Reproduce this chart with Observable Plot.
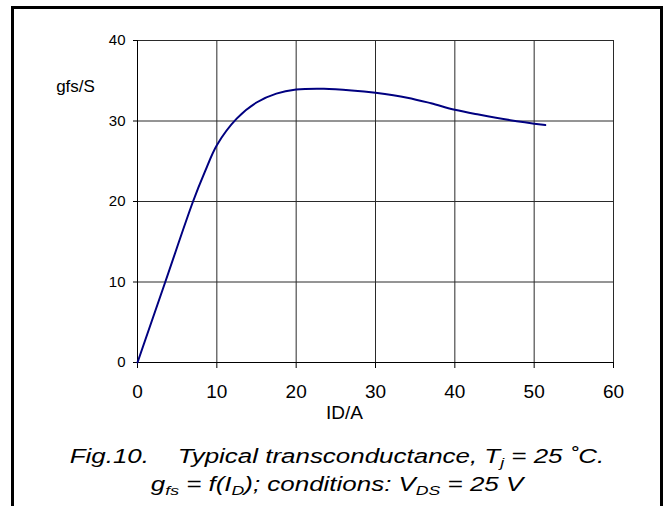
<!DOCTYPE html>
<html>
<head>
<meta charset="utf-8">
<script src="https://cdn.jsdelivr.net/npm/d3@7"></script>
<script src="https://cdn.jsdelivr.net/npm/@observablehq/plot@0.6"></script>
<style>
  html, body { margin: 0; padding: 0; background: white; }
  #wrap { position: relative; width: 667px; height: 506px; overflow: hidden; background: white; }
  #border { position: absolute; left: 11px; top: 6px; width: 646px; height: 520px;
            border: 3px solid black; pointer-events: none; }
  #caption { margin-left: 11px; width: 652px; text-align: center; margin-top: 12px;
             font-family: "Liberation Sans", Arial, sans-serif; font-style: italic;
             font-size: 19.5px; line-height: 28px; color: black; white-space: pre; }
  .ln { display: inline-block; transform: scaleX(1.33); transform-origin: 50% 50%; }
  .sb { font-size: 0.68em; position: relative; top: 0.32em; line-height: 0; }
  svg { display: block; }
</style>
</head>
<body>
<div id="wrap">
  <div id="chart"></div>
  <div id="caption"><span class="ln">Fig.10.    Typical transconductance, T<span class="sb">j</span> = 25 ˚C.</span>
<span class="ln">g<span class="sb">fs</span> = f(I<span class="sb">D</span>); conditions: V<span class="sb">DS</span> = 25 V</span></div>
  <div id="border"></div>
</div>
<script>
// Drain current I_D (A)
const ID  = [0, 3.5, 7, 8.5, 10, 12.5, 15, 17.5, 20, 23.5, 27, 30, 34, 37, 40, 43, 47, 51.4];
// Forward transconductance g_fs (S)
const gfs = [0, 10, 20, 23.7, 27, 30.3, 32.3, 33.4, 33.9, 34.0, 33.8, 33.5, 32.9, 32.2, 31.4, 30.8, 30.1, 29.5];
const xTicks = [0, 10, 20, 30, 40, 50, 60];
const yTicks = [0, 10, 20, 30, 40];
const xLabel = "ID/A";
const yLabel = "gfs/S";

const data = ID.map((x, i) => ({x, y: gfs[i]}));

const chart = Plot.plot({
  width: 667,
  height: 430,
  marginLeft: 137,
  marginRight: 54,
  marginTop: 40,
  marginBottom: 68,
  style: {fontFamily: "'Liberation Sans', Arial, sans-serif", background: "white", color: "black"},
  x: {domain: [0, 60]},
  y: {domain: [0, 40]},
  marks: [
    Plot.ruleX(xTicks.filter(d => d > 0), {stroke: "#2a2a2a", strokeWidth: 1}),
    Plot.ruleY(yTicks.filter(d => d > 0), {stroke: "#2a2a2a", strokeWidth: 1}),
    Plot.axisX({ticks: xTicks, tickSize: 6, tickPadding: 16, fontSize: 19, label: null, stroke: "black"}),
    Plot.axisY({ticks: yTicks, tickSize: 4, tickPadding: 8, fontSize: 15, label: null, stroke: "black"}),
    Plot.ruleX([0], {stroke: "black"}),
    Plot.ruleY([0], {stroke: "black"}),
    Plot.line(data, {x: "x", y: "y", curve: "catmull-rom", stroke: "#000080", strokeWidth: 2}),
    Plot.text([yLabel], {frameAnchor: "top-left", text: d => d, textAnchor: "middle", dx: -62, dy: 39, fontSize: 17}),
    Plot.text([xLabel], {frameAnchor: "bottom", text: d => d, textAnchor: "middle", dx: -31, dy: 56, fontSize: 19})
  ]
});
document.getElementById("chart").appendChild(chart);
</script>
</body>
</html>
